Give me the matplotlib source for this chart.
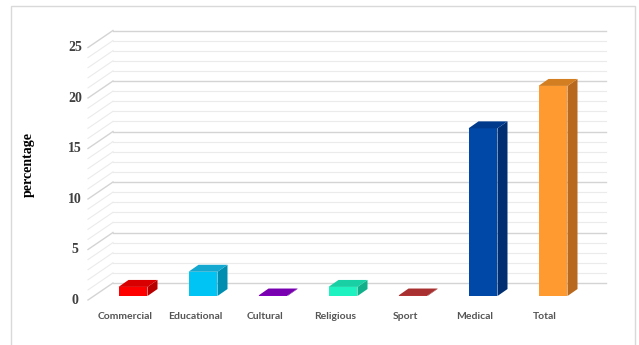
import matplotlib
matplotlib.use("Agg")
import matplotlib.pyplot as plt
from matplotlib.patches import Polygon, Rectangle

# data
categories = ["Commercial", "Educational", "Cultural", "Religious", "Sport", "Medical", "Total"]
values = [0.9, 2.4, 0.05, 0.9, 0.05, 16.6, 20.8]
front_colors = ["#FF0000", "#00C4F4", "#8A00C8", "#1DF2C0", "#C03A3A", "#0048A8", "#FF9A30"]
side_colors = ["#B80000", "#008EB0", "#5E0090", "#12B08A", "#8A2424", "#002E70", "#B8691E"]
top_colors = ["#D80000", "#14A8D0", "#7800B0", "#18D0A4", "#A83030", "#003A8C", "#D47E22"]
yticks = [0, 5, 10, 15, 20, 25]

fig = plt.figure(figsize=(6.39, 3.45), dpi=100)
ax = fig.add_axes([0, 0, 1, 1])
# 1 category = 70 px, 1 unit = 10.1 px
ax.set_xlim(-1.9, 7.2286)
ax.set_ylim(-4.851, 29.307)
ax.axis("off")

# chart area border
fig.patches.append(Rectangle((11 / 639, -0.05), 624 / 639, 1 - 6 / 345 + 0.05,
                             transform=fig.transFigure, fill=False,
                             edgecolor="#D9D9D9", linewidth=1.0))

# walls (back wall offset, left wall front/back edges)
wall_dx, wall_dy = 0.357, 1.287
front_x, front_dy = -0.643, -0.396
back_right = 6.757
for v in range(0, 26):
    major = v % 5 == 0
    col = "#D4D4D4" if major else "#EBEBEB"
    lw = 1.0 if major else 0.8
    ax.plot([front_x + wall_dx, back_right], [v + wall_dy, v + wall_dy], color=col, lw=lw, zorder=1)
    ax.plot([front_x, front_x + wall_dx], [v + front_dy, v + wall_dy], color=col, lw=lw, zorder=1)

# y tick labels
for t in yticks:
    ax.text(-0.829, t + front_dy, str(t), ha="center", va="center",
            fontsize=10, fontweight="bold", family="Liberation Serif", color="#404040")

ax.text(-1.5, 13, "percentage", rotation=90, ha="center", va="center",
        fontsize=10, fontweight="bold", family="Liberation Serif", color="#000000")

# 3d-like bars
x = list(range(len(categories)))
w = 0.414
ddx, ddy = 0.143, 0.69
ax.bar(x, values, width=w, color=front_colors, zorder=3, linewidth=0)
for i, v in enumerate(values):
    r = x[i] + w / 2
    l = x[i] - w / 2
    ax.add_patch(Polygon([(r, 0), (r + ddx, ddy), (r + ddx, v + ddy), (r, v)],
                         closed=True, facecolor=side_colors[i], edgecolor="none", zorder=2.5))
    ax.add_patch(Polygon([(l, v), (r, v), (r + ddx, v + ddy), (l + ddx, v + ddy)],
                         closed=True, facecolor=top_colors[i], edgecolor="none", zorder=3.5))
    ax.text(x[i] - 0.114, -1.98, categories[i], ha="center", va="center",
            fontsize=7.5, family="Lato", fontweight="bold", color="#555555")

fig.savefig("out.png", dpi=100)
